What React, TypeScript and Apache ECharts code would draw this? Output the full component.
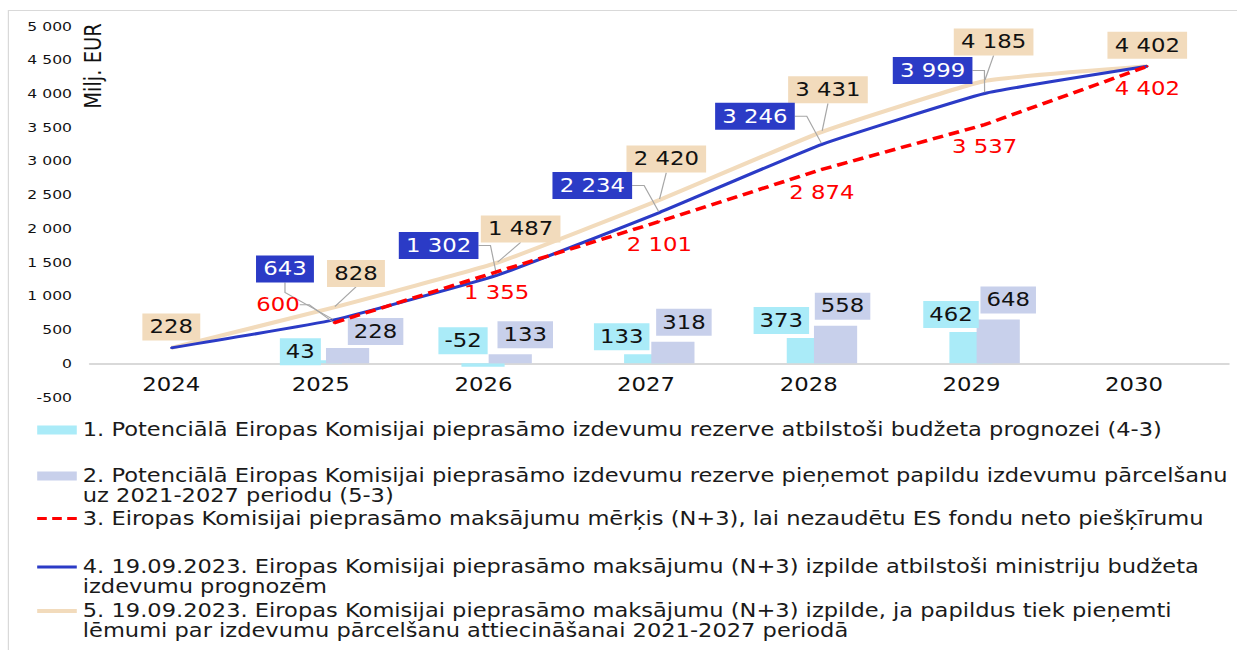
import React, { useEffect, useRef } from "react";
import * as echarts from "echarts";

const years = ["2024", "2025", "2026", "2027", "2028", "2029", "2030"];
const reserveBudget = [null, 43, -52, 133, 373, 462, null];
const reserveShift = [null, 228, 133, 318, 558, 648, null];
const targetN3 = [null, 600, 1355, 2101, 2874, 3537, 4402];
const execBudget = [228, 643, 1302, 2234, 3246, 3999, 4402];
const execShift = [228, 828, 1487, 2420, 3431, 4185, 4402];
const yTicks = { min: -500, max: 5000, step: 500 };

const names = [
  "1. Potenciālā Eiropas Komisijai pieprasāmo izdevumu rezerve atbilstoši budžeta prognozei (4-3)",
  "2. Potenciālā Eiropas Komisijai pieprasāmo izdevumu rezerve pieņemot papildu izdevumu pārcelšanu\nuz 2021-2027 periodu (5-3)",
  "3. Eiropas Komisijai pieprasāmo maksājumu mērķis (N+3), lai nezaudētu ES fondu neto piešķīrumu",
  "4. 19.09.2023. Eiropas Komisijai pieprasāmo maksājumu (N+3) izpilde atbilstoši ministriju budžeta\nizdevumu prognozēm",
  "5. 19.09.2023. Eiropas Komisijai pieprasāmo maksājumu (N+3) izpilde, ja papildus tiek pieņemti\nlēmumi par izdevumu pārcelšanu attiecināšanai 2021-2027 periodā",
];

// Page is drawn narrower and stretched horizontally, like the reference.
const PAGE_W = 1237;
const INNER_W = 1031;
const SX = PAGE_W / INNER_W;

// label placement: shift of label centre from its point (page pixels)
const blueShift = [null, [-49, -51], [-58, -30], [-67, -27], [-67, -28], [-52, -23], null];
const beigeShift = [[0, -21], [22, -34], [24, -34], [7, -41], [6, -42], [9, -39], [0, -21]];
const redShift = [null, [-56, -18], [0, 21], [0, 23], [0, 23], [0, 22], [0, 22]];
const redGuide = [false, true, false, false, false, false, false];
const beigeGuide = [false, true, true, true, true, true, false];
const cyanShift = [[0, 0], [-20, 9], [-20, -5], [-24, 0], [-27, 0], [-20, 0], [0, 0]];
const lavShift = [[0, 0], [28, 3], [15, 0], [11, 0], [7, 0], [10, 0], [0, 0]];

const FONT = "DejaVu Sans";
const fmt = (v: number) => String(v).replace(/\B(?=(\d{3})+(?!\d))/g, " ");

const COL = {
  cyan: "#AAEBF8",
  lav: "#C8D0EB",
  red: "#FF0000",
  blue: "#2B3BC6",
  beige: "#F2DBBC",
  guide: "#A6A6A6",
};

const boxLabel = (bg: string, color: string) => ({
  show: true,
  position: "inside",
  fontFamily: FONT,
  fontSize: 19,
  lineHeight: 21,
  color,
  backgroundColor: bg,
  padding: [3, 6],
  formatter: (p: any) => fmt(Array.isArray(p.value) ? p.value[1] : p.value),
});

const barLabel = (bg: string, distance: number) => ({
  show: true,
  position: "top",
  distance,
  fontFamily: FONT,
  fontSize: 19,
  lineHeight: 21,
  color: "#111",
  backgroundColor: bg,
  padding: [3, 5],
  formatter: (p: any) => fmt(p.value),
});

// legend icons (inner px): width 33, first text line centred at y=10
const IW = 33;
const anchors = (h: number) => `M0,0L0.01,0L0,0.01Z M${IW},${h}L${IW - 0.01},${h}L${IW},${h - 0.01}Z`;
const iconBar2 = `path://M0,5.5H${IW}V14.5H0Z ` + anchors(40);
const iconDash = `path://M0,0H8V3H0Z M12.5,0H20.5V3H12.5Z M25,0H${IW}V3H25Z`;
const iconBlue2 = `path://M0,8.5H${IW}V11.5H0Z ` + anchors(40);
const iconBeige2 = `path://M0,8H${IW}V12H0Z ` + anchors(40);

export default function App() {
  const ref = useRef<HTMLDivElement>(null);
  useEffect(() => {
    const chart = echarts.init(ref.current!, undefined, { renderer: "svg" });

    const lineData = (vals: (number | null)[], shifts: any[], guides?: boolean[]) =>
      vals.map((v, i) => ({
        value: v,
        label: { show: shifts[i] != null },
        labelLine: { show: guides ? guides[i] : shifts[i] != null },
      }));

    const shiftLayout = (arr: any[]) => (p: any) => {
      const s = arr[p.dataIndex];
      return s ? { dx: s[0] / SX, dy: s[1] } : {};
    };

    const legendText = { fontFamily: FONT, fontSize: 18.8, lineHeight: 20, color: "#1a1a1a" };
    const legendSpec = [
      { top: 420, icon: "rect", itemHeight: 9 },
      { top: 466, icon: iconBar2, itemHeight: 40 },
      { top: 508.5, icon: iconDash, itemHeight: 3 },
      { top: 557, icon: iconBlue2, itemHeight: 40 },
      { top: 601, icon: iconBeige2, itemHeight: 40 },
    ];
    const legends = names.map((n, i) => ({
      orient: "vertical",
      left: 31,
      top: legendSpec[i].top,
      padding: 0,
      itemWidth: IW,
      itemHeight: legendSpec[i].itemHeight,
      itemGap: 5,
      selectedMode: false,
      icon: legendSpec[i].icon,
      data: [n],
      textStyle: legendText,
    }));

    chart.setOption({
      animation: false,
      backgroundColor: "#fff",
      textStyle: { fontFamily: FONT },
      grid: { left: 75, right: 7, top: 26, bottom: 253 },
      legend: legends,
      graphic: [
        {
          type: "rect",
          shape: { x: 7, y: 10.5, width: 1100, height: 700 },
          style: { fill: "none", stroke: "#D9D9D9", lineWidth: 1 },
          silent: true,
          z: -10,
        },
        {
          type: "text",
          x: 77.5,
          y: 66,
          rotation: Math.PI / 2,
          style: {
            text: "Milj. EUR",
            fontFamily: FONT,
            fontSize: 19.5,
            fill: "#111",
            align: "center",
            verticalAlign: "middle",
          },
        },
      ],
      xAxis: {
        type: "category",
        data: years.map((y, i) => ({
          value: y,
          textStyle: { padding: i === 0 ? 0 : [0, 22, 0, 0] },
        })),
        offset: -33.7,
        axisLine: { onZero: false, lineStyle: { color: "#D9D9D9", width: 2 } },
        axisTick: { show: false },
        axisLabel: { fontFamily: FONT, fontSize: 19, color: "#111", margin: 12 },
        splitLine: { show: false },
      },
      yAxis: {
        type: "value",
        min: yTicks.min,
        max: yTicks.max,
        interval: yTicks.step,
        axisLine: { show: false },
        axisTick: { show: false },
        splitLine: { show: false },
        axisLabel: {
          fontFamily: FONT,
          fontSize: 13,
          color: "#111",
          margin: 15,
          formatter: (v: number) => (v < 0 ? "-" + fmt(-v) : fmt(v)),
        },
      },
      series: [
        {
          name: names[0],
          type: "bar",
          data: reserveBudget,
          barWidth: 36,
          barGap: "-37%",
          itemStyle: { color: COL.cyan },
          label: barLabel(COL.cyan, 4),
          labelLayout: shiftLayout(cyanShift),
          z: 2,
        },
        {
          name: names[1],
          type: "bar",
          data: reserveShift,
          barWidth: 36,
          itemStyle: { color: COL.lav },
          label: barLabel(COL.lav, 6),
          labelLayout: shiftLayout(lavShift),
          z: 2,
        },
        {
          name: names[2],
          type: "line",
          data: lineData(targetN3, redShift, redGuide),
          symbol: "circle",
          symbolSize: 2,
          itemStyle: { color: COL.red },
          lineStyle: { color: COL.red, width: 3.5, type: [9, 5] },
          label: { ...boxLabel("transparent", COL.red), padding: 0 },
          labelLine: { length2: 8, lineStyle: { color: COL.guide, width: 1 } },
          labelLayout: shiftLayout(redShift),
          z: 5,
        },
        {
          name: names[3],
          type: "line",
          data: lineData(execBudget, blueShift),
          symbol: "circle",
          symbolSize: 2,
          smooth: 0.12,
          itemStyle: { color: COL.blue },
          lineStyle: { color: COL.blue, width: 3 },
          label: boxLabel(COL.blue, "#fff"),
          labelLine: { length2: 10, lineStyle: { color: COL.guide, width: 1 } },
          labelLayout: shiftLayout(blueShift),
          z: 4,
        },
        {
          name: names[4],
          type: "line",
          data: lineData(execShift, beigeShift, beigeGuide),
          symbol: "circle",
          symbolSize: 2,
          smooth: 0.12,
          itemStyle: { color: COL.beige },
          lineStyle: { color: COL.beige, width: 4 },
          label: boxLabel(COL.beige, "#111"),
          labelLine: { lineStyle: { color: COL.guide, width: 1 } },
          labelLayout: shiftLayout(beigeShift),
          z: 3,
        },
      ],
    });
    return () => chart.dispose();
  }, []);
  return (
    <div
      style={{
        position: "absolute",
        left: 0,
        top: 0,
        width: PAGE_W,
        height: 650,
        overflow: "hidden",
        background: "#fff",
      }}
    >
      <div
        ref={ref}
        style={{
          width: INNER_W,
          height: 650,
          transform: `scaleX(${SX})`,
          transformOrigin: "0 0",
        }}
      />
    </div>
  );
}
